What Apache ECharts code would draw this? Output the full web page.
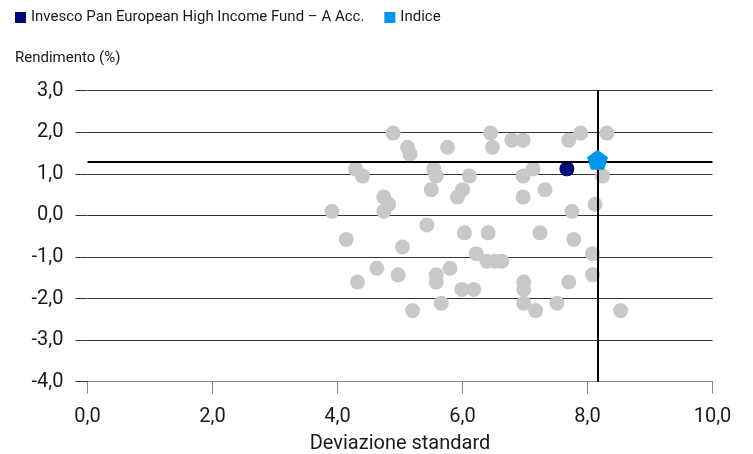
<!DOCTYPE html>
<html>
<head>
<meta charset="utf-8">
<script src="https://cdn.jsdelivr.net/npm/echarts@6/dist/echarts.min.js"></script>
<style>
    html, body { margin: 0; padding: 0; background: #fff; }
    #main { width: 753px; height: 454px; }
</style>
</head>
<body>
<div id="main"></div>
<script>
// nomi delle serie
var fundName = 'Invesco Pan European High Income Fund – A Acc.';
var indexName = 'Indice';

// fondi del settore: [deviazione standard, rendimento]
var peerRisk = [4.89, 5.12, 5.16, 5.76, 4.29, 4.40, 5.54, 5.58, 6.11, 5.50,
    6.00, 5.92, 4.74, 4.82, 4.74, 3.91, 5.43, 6.03, 6.45, 6.48,
    6.79, 6.97, 7.70, 7.89, 8.31, 7.13, 6.97, 8.24, 7.32, 6.97,
    7.75, 8.12, 4.14, 5.04, 6.22, 4.63, 4.32, 4.97, 5.58, 5.58,
    5.80, 5.99, 6.18, 5.66, 5.20, 6.41, 7.24, 7.78, 6.39, 6.52,
    6.63, 8.08, 8.08, 6.98, 6.98, 7.70, 6.98, 7.17, 7.51, 8.53];
var peerReturn = [1.98, 1.64, 1.48, 1.64, 1.12, 0.95, 1.12, 0.95, 0.95, 0.62,
    0.62, 0.44, 0.44, 0.27, 0.10, 0.10, -0.23, -0.42, 1.98, 1.64,
    1.81, 1.81, 1.81, 1.98, 1.98, 1.12, 0.95, 0.95, 0.62, 0.44,
    0.10, 0.27, -0.58, -0.76, -0.92, -1.27, -1.60, -1.43, -1.43, -1.60,
    -1.27, -1.78, -1.78, -2.11, -2.29, -0.42, -0.42, -0.58, -1.10, -1.10,
    -1.10, -0.92, -1.43, -1.60, -1.78, -1.60, -2.11, -2.29, -2.11, -2.29];

var fundPoint = [7.67, 1.12];
var indexPoint = [8.16, 1.34];

// linee di riferimento
var refRisk = 8.16;
var refReturn = 1.30;

// assi
var xMin = 0, xMax = 10, xStep = 2;
var yMin = -4, yMax = 3, yStep = 1;

var peers = [];
for (var i = 0; i < peerRisk.length; i++) {
    peers.push([peerRisk[i], peerReturn[i]]);
}

function fmt(v) {
    return v.toFixed(1).replace('.', ',');
}

var font = 'Roboto';
var pentagon = 'path://M50,0 L97.6,34.5 L79.4,90.5 L20.6,90.5 L2.4,34.5 Z';

var chart = echarts.init(document.getElementById('main'));
chart.setOption({
    animation: false,
    textStyle: { fontFamily: font },
    title: {
        text: 'Rendimento (%)',
        left: 10,
        top: 46,
        textStyle: { fontSize: 15, fontWeight: 'normal', color: '#1a1a1a', fontFamily: font }
    },
    legend: {
        left: 10,
        top: 5,
        itemWidth: 11,
        itemHeight: 11,
        itemGap: 20,
        textStyle: { fontSize: 15, color: '#1a1a1a', fontFamily: font },
        data: [
            { name: fundName, icon: 'rect' },
            { name: indexName, icon: 'rect' }
        ]
    },
    grid: { left: 87.5, right: 40.5, top: 90.7, bottom: 72.3, outerBoundsMode: 'none', containLabel: false },
    xAxis: {
        type: 'value',
        min: xMin, max: xMax, interval: xStep,
        name: 'Deviazione standard',
        nameLocation: 'middle',
        nameGap: 52,
        nameTextStyle: { fontSize: 20, color: '#1a1a1a', fontFamily: font },
        axisLine: { show: true, onZero: false, lineStyle: { color: '#888', width: 1 } },
        axisTick: { show: true, length: 12, lineStyle: { color: '#888' } },
        axisLabel: { margin: 25, fontSize: 20, color: '#1a1a1a', fontFamily: font, formatter: fmt },
        splitLine: { show: false }
    },
    yAxis: {
        type: 'value',
        min: yMin, max: yMax, interval: yStep,
        axisLine: { show: false },
        axisTick: { show: true, length: 12, lineStyle: { color: '#333' } },
        axisLabel: { margin: 24, fontSize: 20, color: '#1a1a1a', fontFamily: font, formatter: fmt },
        splitLine: { show: true, lineStyle: { color: '#333', width: 1 } }
    },
    series: [
        {
            name: 'Settore',
            type: 'scatter',
            z: 2,
            symbolSize: 15,
            itemStyle: { color: '#c8c8c8', opacity: 1 },
            data: peers
        },
        {
            name: 'linee',
            type: 'scatter',
            z: 3,
            data: [],
            markLine: {
                silent: true,
                symbol: 'none',
                label: { show: false },
                lineStyle: { color: '#000', width: 2, type: 'solid' },
                data: [{ xAxis: refRisk }, { yAxis: refReturn }]
            }
        },
        {
            name: fundName,
            type: 'scatter',
            z: 4,
            symbolSize: 15,
            itemStyle: { color: '#000a78', opacity: 1 },
            data: [fundPoint]
        },
        {
            name: indexName,
            type: 'scatter',
            z: 5,
            symbol: pentagon,
            symbolSize: [21, 20],
            itemStyle: { color: '#0096ef', opacity: 1 },
            data: [indexPoint]
        }
    ]
});
</script>
</body>
</html>
